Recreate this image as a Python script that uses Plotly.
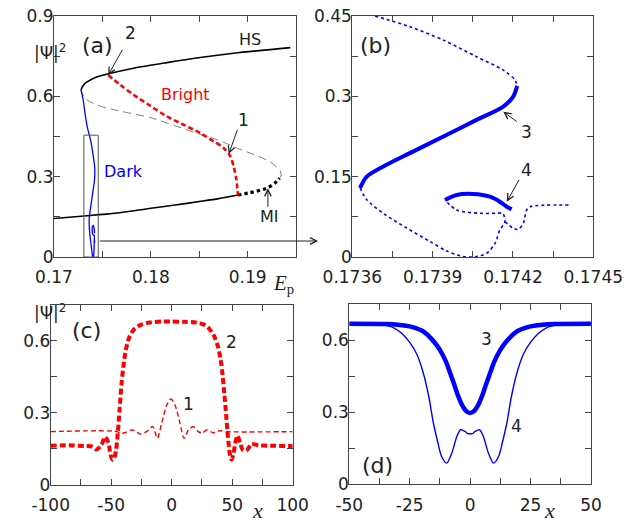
import plotly.graph_objects as go

# ---------------- panel (a): homogeneous states and soliton branches ----------------
ep_hs_upper = [0.17279, 0.17296, 0.17321, 0.17371, 0.17441, 0.17562, 0.17821, 0.18166, 0.1851, 0.18855, 0.19441]
i_hs_upper = [0.6244, 0.637, 0.649, 0.660, 0.672, 0.684, 0.705, 0.726, 0.745, 0.761, 0.782]

ep_hs_lower = [0.170, 0.1725, 0.175, 0.1768, 0.180, 0.1825, 0.185, 0.187, 0.189]
i_hs_lower = [0.144, 0.151, 0.159, 0.1654, 0.182, 0.194, 0.207, 0.218, 0.2315]

ep_hs_mi = [0.1890, 0.19021, 0.19193, 0.19278, 0.1933]
i_hs_mi = [0.2315, 0.240, 0.2565, 0.275, 0.294]

ep_hs_middle = [0.1933, 0.19347, 0.1933, 0.19227, 0.1910, 0.1890, 0.1870, 0.1851, 0.1825, 0.1799,
                0.1768, 0.1750, 0.1740, 0.1732, 0.17279]
i_hs_middle = [0.294, 0.306, 0.325, 0.356, 0.378, 0.405, 0.436, 0.458, 0.490, 0.521,
               0.545, 0.561, 0.575, 0.5926, 0.6244]

ep_bright = [0.17559, 0.17683, 0.17821, 0.17993, 0.18166, 0.18338, 0.1851, 0.18648, 0.18752,
             0.18821, 0.18855, 0.18883, 0.1890]
i_bright = [0.680, 0.643, 0.606, 0.565, 0.525, 0.494, 0.463, 0.432, 0.407,
            0.376, 0.338, 0.289, 0.2315]

ep_dark_top = [0.17279, 0.17302, 0.1732, 0.17343, 0.173685]
i_dark_top = [0.6244, 0.586, 0.537, 0.487, 0.45]

# ---------------- panel (b): dark soliton snake (zoom) ----------------
ep_dark_unst1 = [0.173685, 0.173815, 0.17394, 0.174064, 0.174164, 0.174207, 0.174216]
i_dark_unst1 = [0.45, 0.430, 0.405, 0.374, 0.349, 0.331, 0.3195]

ep_dark_st3 = [0.174216, 0.174201, 0.174164, 0.174064, 0.17394, 0.173815, 0.173716, 0.173654, 0.173629]
i_dark_st3 = [0.3195, 0.2996, 0.281, 0.256, 0.225, 0.194, 0.169, 0.150, 0.129]

ep_dark_unst2 = [0.173629, 0.173654, 0.173720, 0.173800, 0.17389, 0.173953, 0.174014, 0.174052,
                 0.174102, 0.174133, 0.174151, 0.17417, 0.174162, 0.174139, 0.174077, 0.17399, 0.173946]
i_dark_unst2 = [0.129, 0.107, 0.080, 0.055, 0.029, 0.011, 0.001, 0.0,
                0.0069, 0.0256, 0.0504, 0.066, 0.0816, 0.0816, 0.0816, 0.0878, 0.1064]

ep_dark_st4 = [0.173946, 0.17399, 0.174052, 0.174114, 0.174151, 0.174177, 0.174195]
i_dark_st4 = [0.1064, 0.1158, 0.1176, 0.1126, 0.1033, 0.0939, 0.089]

ep_dark_unst3 = [0.17417, 0.174201, 0.17422, 0.174239, 0.174251, 0.174264, 0.174413]
i_dark_unst3 = [0.066, 0.0536, 0.0517, 0.063, 0.0878, 0.0939, 0.097]

# ---------------- panel (c): bright soliton profiles ----------------
x_prof1 = [-100, -45, -42.7, -38.6, -33.1, -29, -26.2, -20.7, -15.7, -11.9, -8.3, -4.1, -0.6, 2.7,
           6.9, 10.2, 13.7, 17.8, 22, 25, 28.9, 34.4, 39.9, 45, 100]
psi_prof1 = [0.222, 0.222, 0.215, 0.2175, 0.229, 0.222, 0.212, 0.222, 0.243, 0.194, 0.2565, 0.333,
             0.3575, 0.333, 0.2565, 0.194, 0.229, 0.2425, 0.222, 0.215, 0.229, 0.2175, 0.2258, 0.222, 0.222]

x_prof2 = [-100, -85, -72, -66, -62, -58, -55, -52.5, -50.5, -49, -47.5, -46, -44.5, -43, -41.5, -40,
           -38, -35, -31, -26, -18, -8, 0, 10, 20, 27, 31, 35, 38, 40.5, 42, 43.5, 45, 46.5, 48,
           49.5, 51, 53, 54.5, 56.5, 59, 62, 66, 72, 85, 100]
psi_prof2 = [0.163, 0.165, 0.162, 0.160, 0.148, 0.168, 0.200, 0.178, 0.125, 0.105, 0.112, 0.145,
             0.22, 0.32, 0.42, 0.49, 0.56, 0.615, 0.648, 0.665, 0.676, 0.680, 0.680, 0.679, 0.676,
             0.666, 0.650, 0.620, 0.580, 0.52, 0.46, 0.38, 0.29, 0.20, 0.13, 0.105, 0.13, 0.185,
             0.205, 0.175, 0.145, 0.145, 0.170, 0.165, 0.163, 0.162]

# ---------------- panel (d): dark soliton profiles (symmetric) ----------------
x_half3 = [0, 1, 2.1, 3.5, 4.9, 6.5, 8.3, 10, 11.7, 13.9, 16, 18, 20, 22.5, 25, 30, 35, 50]
psi_half3 = [0.2965, 0.300, 0.31, 0.333, 0.366, 0.413, 0.464, 0.51, 0.545, 0.580, 0.605, 0.625,
             0.640, 0.650, 0.657, 0.664, 0.667, 0.668]
x_half4 = [0, 1, 2.1, 3.9, 5.5, 7.6, 9.7, 11.8, 13.5, 15.2, 17, 19.4, 22, 24.9, 28, 31.8, 36, 40, 50]
psi_half4 = [0.21, 0.211, 0.22, 0.227, 0.199, 0.129, 0.088, 0.1156, 0.18, 0.255, 0.36, 0.464, 0.54,
             0.589, 0.625, 0.652, 0.662, 0.666, 0.668]


def mirror(xh, yh):
    xs = [-v for v in reversed(xh[1:])] + xh
    ys = list(reversed(yh[1:])) + yh
    return xs, ys


x_prof3, psi_prof3 = mirror(x_half3, psi_half3)
x_prof4, psi_prof4 = mirror(x_half4, psi_half4)

RED = "#ff0000"
BLUE = "#0000ff"
FONT = "DejaVu Sans"
SERIF = "Liberation Serif"
TXT = "#222222"

fig = go.Figure()


def line(x, y, color, width, dash="solid", axes=("x", "y"), shape="spline"):
    fig.add_trace(go.Scatter(x=x, y=y, mode="lines", xaxis=axes[0], yaxis=axes[1],
                             line=dict(color=color, width=width, dash=dash, shape=shape,
                                       smoothing=0.8),
                             hoverinfo="skip"))


# (a)
line(ep_hs_middle, i_hs_middle, "#808080", 1, "8px,5px")
line(ep_hs_upper, i_hs_upper, "black", 1.6)
line(ep_hs_lower, i_hs_lower, "black", 1.6)
line(ep_hs_mi, i_hs_mi, "black", 3.2, "dot")
line(ep_bright, i_bright, RED, 2.6, "5px,3px")
dark_a_x = ep_dark_top + ep_dark_unst1[1:] + ep_dark_st3[1:] + ep_dark_unst2[1:] + ep_dark_st4[1:]
dark_a_y = i_dark_top + i_dark_unst1[1:] + i_dark_st3[1:] + i_dark_unst2[1:] + i_dark_st4[1:]
line(dark_a_x, dark_a_y, BLUE, 1.3)
line(ep_dark_unst3[:3], i_dark_unst3[:3], BLUE, 1.3)

# (b)
ax_b = ("x2", "y2")
line(ep_dark_unst1, i_dark_unst1, BLUE, 1.6, "3px,3px", ax_b)
line(ep_dark_unst2, i_dark_unst2, BLUE, 1.6, "3px,3px", ax_b)
line(ep_dark_unst3, i_dark_unst3, BLUE, 1.6, "3px,3px", ax_b)
line(ep_dark_st3, i_dark_st3, BLUE, 4, "solid", ax_b)
line(ep_dark_st4, i_dark_st4, BLUE, 4, "solid", ax_b)

# (c)
ax_c = ("x3", "y3")
line(x_prof1, psi_prof1, RED, 1.4, "5px,3px", ax_c)
line(x_prof2, psi_prof2, RED, 4, "6px,3px", ax_c)

# (d)
ax_d = ("x4", "y4")
line(x_prof4, psi_prof4, BLUE, 1.4, "solid", ax_d)
line(x_prof3, psi_prof3, BLUE, 4.5, "solid", ax_d)


def ticks(start, step, n, every):
    vals = [round(start + k * step, 6) for k in range(n)]
    texts = []
    for k, v in enumerate(vals):
        if k % every == 0:
            s = ("%.4f" % v).rstrip("0").rstrip(".") if v != 0 else "0"
            texts.append(s)
        else:
            texts.append("")
    return vals, texts


base_style = dict(showline=True, mirror="ticks", ticks="inside", ticklen=6, linecolor="#444",
                  tickcolor="#444", linewidth=1, showgrid=False, zeroline=False, automargin=False,
                  tickfont=dict(family=FONT, size=17, color=TXT), fixedrange=True)
x_style = dict(base_style, ticklabelstandoff=5)
y_style = dict(base_style, ticklabelstandoff=-4)

xa_v, xa_t = ticks(0.17, 0.005, 6, 2)
ya_v, ya_t = ticks(0.0, 0.15, 7, 2)
xb_v, xb_t = ticks(0.1736, 0.00015, 7, 2)
yb_v, yb_t = ticks(0.0, 0.075, 7, 2)
xc_v, xc_t = ticks(-100, 25, 9, 2)
yc_v, yc_t = ticks(0.0, 0.15, 6, 2)
xd_v, xd_t = ticks(-50, 12.5, 9, 2)
yd_v, yd_t = ticks(0.0, 0.15, 6, 2)
xc_t = [t if t == "" else str(int(float(t))) for t in xc_t]
xd_t = [t if t == "" else str(int(float(t))) for t in xd_t]

fig.update_layout(
    width=630, height=525, margin=dict(l=0, r=0, t=0, b=0, autoexpand=False),
    paper_bgcolor="white", plot_bgcolor="white", showlegend=False,
    xaxis=dict(domain=[0.0857, 0.470], range=[0.17, 0.195], tickvals=xa_v, ticktext=xa_t, anchor="y", **x_style),
    yaxis=dict(domain=[0.5105, 0.9695], range=[0, 0.9], tickvals=ya_v, ticktext=ya_t, anchor="x", **y_style),
    xaxis2=dict(domain=[0.5592, 0.9417], range=[0.1736, 0.1745], tickvals=xb_v, ticktext=xb_t, anchor="y2", **x_style),
    yaxis2=dict(domain=[0.5105, 0.9695], range=[0, 0.45], tickvals=yb_v, ticktext=yb_t, anchor="x2", **y_style),
    xaxis3=dict(domain=[0.0805, 0.4646], range=[-100, 100], tickvals=xc_v, ticktext=xc_t, anchor="y3", **x_style),
    yaxis3=dict(domain=[0.0762, 0.4196], range=[0, 0.75], tickvals=yc_v, ticktext=yc_t, anchor="x3", **y_style),
    xaxis4=dict(domain=[0.5544, 0.938], range=[-50, 50], tickvals=xd_v, ticktext=xd_t, anchor="y4", **x_style),
    yaxis4=dict(domain=[0.0775, 0.421], range=[0, 0.75], tickvals=yd_v, ticktext=yd_t, anchor="x4", **y_style),
)

# zoom window of panel (a) and arrow towards panel (b)
fig.add_shape(type="rect", xref="x", yref="y", x0=0.17309, x1=0.17457, y0=0, y1=0.455,
              line=dict(color="#555", width=1))
fig.add_annotation(xref="paper", yref="paper", x=318 / 630, y=1 - 241 / 525, axref="pixel", ayref="pixel",
                   ax=-219.7, ay=0, text="", showarrow=True, arrowhead=5, arrowsize=1.3,
                   arrowwidth=1, arrowcolor="#222")


def label(text, x, y, xref, yref, size=17, color=TXT, family=FONT, yanchor="middle"):
    fig.add_annotation(text=text, x=x, y=y, xref=xref, yref=yref, showarrow=False, yanchor=yanchor,
                       font=dict(family=family, size=size, color=color))


def arrow(x, y, ax, ay, xr, yr):
    fig.add_annotation(text="", x=x, y=y, ax=ax, ay=ay, xref=xr, yref=yr, axref=xr, ayref=yr,
                       showarrow=True, arrowhead=5, arrowsize=1.3, arrowwidth=1, arrowcolor="#222")


# panel letters
label("(a)", 80 / 630, 1 - 45 / 525, "paper", "paper", 22)
label("(b)", 375 / 630, 1 - 45 / 525, "paper", "paper", 22)
label("(c)", 70 / 630, 1 - 330 / 525, "paper", "paper", 22)
label("(d)", 377 / 630, 1 - 465 / 525, "paper", "paper", 22)

# axis titles
label("|Ψ|<sup>2</sup>", 32 / 630, 1 - 52 / 525, "paper", "paper", 17)
label("|Ψ|<sup>2</sup>", 32 / 630, 1 - 312 / 525, "paper", "paper", 17)
label("<i>E</i><sub>p</sub>", 283 / 630, 1 - 284 / 525, "paper", "paper", 21, TXT, SERIF)
label("<i>x</i>", 257 / 630, 0.0, "paper", "paper", 22, TXT, SERIF, "bottom")
label("<i>x</i>", 557 / 630, 0.0, "paper", "paper", 22, TXT, SERIF, "bottom")

# (a) annotations
label("HS", 0.19028, 0.811, "x", "y", 16)
label("Bright", 0.1836, 0.608, "x", "y", 16, RED)
label("Dark", 0.1772, 0.32, "x", "y", 16, BLUE)
label("MI", 0.1923, 0.152, "x", "y", 16)
label("2", 0.1779, 0.836, "x", "y")
label("1", 0.1896, 0.512, "x", "y")
arrow(0.17559, 0.679, 0.17714, 0.779, "x", "y")
arrow(0.18804, 0.3846, 0.1890, 0.4806, "x", "y")
arrow(0.19209, 0.2565, 0.19209, 0.182, "x", "y")

# (b) annotations
label("3", 0.174251, 0.234, "x2", "y2")
label("4", 0.174251, 0.163, "x2", "y2")
arrow(0.174164, 0.2713, 0.17422, 0.2508, "x2", "y2")
arrow(0.174177, 0.1033, 0.174226, 0.147, "x2", "y2")

# (c) annotations
label("2", 49.6, 0.596, "x3", "y3")
label("1", 13.8, 0.339, "x3", "y3")

# (d) annotations
label("3", 6.8, 0.603, "x4", "y4")
label("4", 19.2, 0.241, "x4", "y4")

fig.write_html("out.html")
